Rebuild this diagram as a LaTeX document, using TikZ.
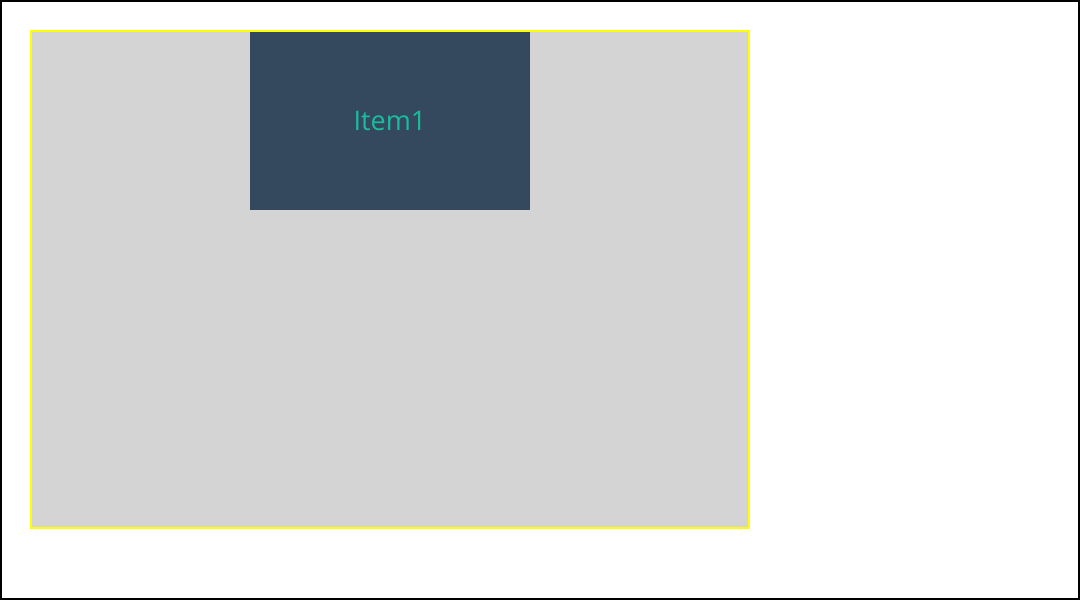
\documentclass[tikz,border=0pt]{standalone}
\usepackage{fontspec}
\setmainfont{Open Sans}
\usepackage{tikz}
\usetikzlibrary{positioning, calc}
\definecolor{itemdark}{HTML}{34495E}
\definecolor{itemteal}{HTML}{1ABC9C}
\definecolor{panelgray}{HTML}{D4D4D4}
\definecolor{panelyellow}{HTML}{FFFF00}

\begin{document}
\begin{tikzpicture}[x=1pt, y=-1pt,
    itembox/.style={fill=itemdark, text=itemteal, inner sep=0pt,
      minimum width=280pt, minimum height=178pt, font=\fontsize{27}{31}\selectfont}]
        % Outer frame
        \draw[black, line width=2pt] (1,1) rectangle (1079,599);
        \useasboundingbox (0,0) rectangle (1080,600);

        % Gray panel
        \draw[fill=panelgray, draw=panelyellow, line width=2pt]
          (31,31) rectangle (749,528);
        \coordinate (paneltop) at (390,32);

        % Item
        \node[itembox, below=0pt of paneltop] (item1) {Item1};
      \end{tikzpicture}
\end{document}
